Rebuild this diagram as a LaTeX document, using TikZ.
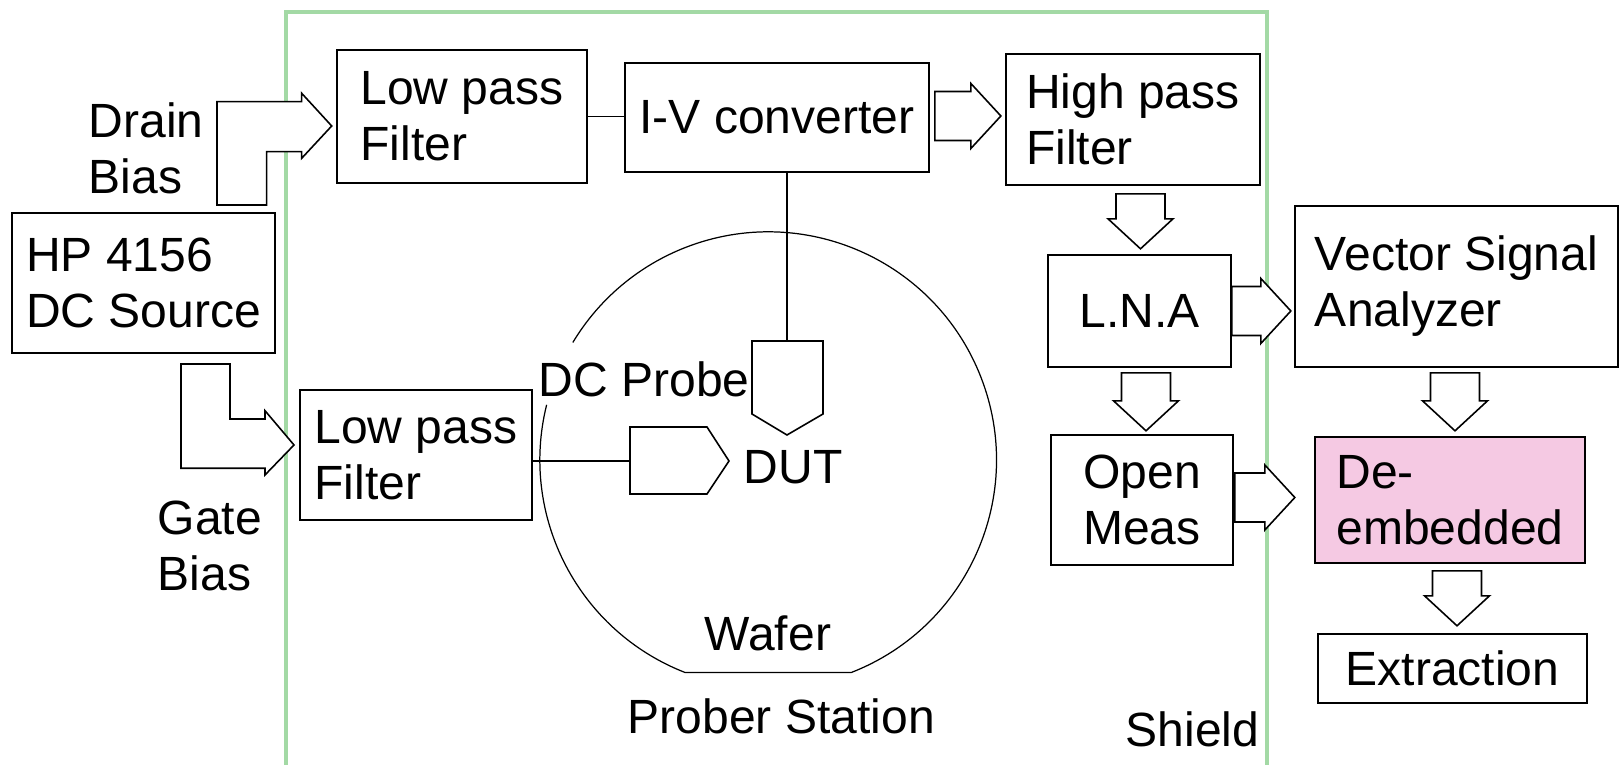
\documentclass[tikz,border=0pt]{standalone}
\usepackage{fontspec}
\setmainfont{Liberation Sans}
\usepackage{tikz}
\definecolor{shieldgreen}{HTML}{A3D9A5}
\definecolor{deembpink}{HTML}{F5C9E3}

\def\shw{24.5}  % shaft half-width of a block arrow
\def\hhw{32.5}  % head half-width
\def\hlen{30}   % head length

\tikzset{
  blk/.style={draw, line width=0.45pt, fill=white, align=left, inner sep=0pt},
  lbl/.style={inner sep=0pt},
  fatline/.style={draw, line width=0.45pt, fill=white, line join=miter},
  pics/barrow/.style={code={
    \draw[fatline] (0,-\shw) -- ({#1-\hlen},-\shw) -- ({#1-\hlen},-\hhw)
      -- (#1,0) -- ({#1-\hlen},\hhw) -- ({#1-\hlen},\shw) -- (0,\shw) -- cycle;
  }},
}

\begin{document}
\begin{tikzpicture}[x=0.01cm, y=-0.01cm, font=\fontsize{13.66}{15.93}\selectfont]
  % 1 unit = 1 px of the 1620 x 765 frame, y pointing down
  \useasboundingbox (0,0) rectangle (1620,765);

  % Shield (open at the bottom)
  \draw[shieldgreen, line width=1.1pt] (286,765) -- (286,12) -- (1267,12) -- (1267,765);

  % Wafer with its flat
  \draw[line width=0.35pt] (768,460) ++(166:2.28cm)
    arc[start angle=166, end angle=248.7, radius=2.28cm] -- ++(1.66cm,0)
    arc[start angle=-68.7, end angle=149, radius=2.28cm];

  % Blocks
  \node[blk, minimum width=2.63cm, minimum height=1.40cm] (hp) at (143.5,283) {HP 4156\\DC Source};
  \node[blk, minimum width=2.50cm, minimum height=1.33cm] (lpfd) at (462,116.5) {Low pass\\Filter};
  \node[blk, minimum width=3.04cm, minimum height=1.09cm] (ivc) at (777,117.5) {I-V converter};
  \node[blk, minimum width=2.54cm, minimum height=1.31cm] (hpf) at (1133,119.5) {High pass\\Filter};
  \node[blk, minimum width=2.32cm, minimum height=1.30cm] (lpfg) at (416,455) {Low pass\\Filter};
  \node[blk, align=center, minimum width=1.83cm, minimum height=1.12cm] (lna) at (1139.5,311) {L.N.A};
  \node[blk, minimum width=3.23cm, minimum height=1.61cm] (vsa) at (1456.5,286.5) {Vector Signal\\Analyzer};
  \node[blk, align=center, minimum width=1.82cm, minimum height=1.30cm] (opm) at (1142,500) {Open\\Meas};
  \node[blk, fill=deembpink, minimum width=2.70cm, minimum height=1.26cm] (deemb) at (1450,500) {De-\\embedded};
  \node[blk, minimum width=2.69cm, minimum height=0.69cm] (extr) at (1452.5,668.5) {Extraction};

  % Probes
  \coordinate (dcp) at (787,341);
  \coordinate (gp) at (630,461);
  \draw[fatline] (752,341) -- (823,341) -- (823,414) -- (787,435) -- (752,414) -- cycle;
  \draw[fatline] (630,427) -- (707,427) -- (729,461) -- (707,494) -- (630,494) -- cycle;

  % Thin wires
  \draw[line width=0.45pt] (lpfd.east) -- (lpfd.east -| ivc.west);
  \draw[line width=0.45pt] (ivc.south -| dcp) -- (dcp);
  \draw[line width=0.45pt] (lpfg.east |- gp) -- (gp);

  % Bent bias arrows
  \draw[fatline] (217,205) -- (217,101.7) -- (301.7,101.7) -- (301.7,93.3) -- (331.7,126)
    -- (301.7,158.3) -- (301.7,151.7) -- (266.7,151.7) -- (266.7,205) -- cycle;
  \draw[fatline] (181,364) -- (230,364) -- (230,419) -- (265,419) -- (265,410.7) -- (294,445)
    -- (265,475) -- (265,468.3) -- (181,468.3) -- cycle;

  % Block arrows
  \path (ivc.east) ++(5,-1.5) pic {barrow=66};
  \path (hpf.south -| lna.north) ++(1,8) pic[rotate=-90] {barrow=55};
  \path (lna.east) pic {barrow=59};
  \path (lna.south -| opm.north) ++(4,5) pic[rotate=-90] {barrow=58};
  \path (vsa.south) ++(-1.5,5) pic[rotate=-90] {barrow=58};
  \path (opm.east) ++(1,-2.5) pic {barrow=60};
  \path (deemb.south) ++(7,7) pic[rotate=-90] {barrow=55};

  % Labels
  \node[lbl, anchor=north west, align=left] (drainlbl) at (88,102) {Drain\\Bias};
  \node[lbl, anchor=north west, align=left] (gatelbl) at (157,500) {Gate\\Bias};
  \node[lbl, anchor=base west] (probelbl) at (538,397) {DC Probe};
  \node[lbl, anchor=base west] (dutlbl) at (743,484) {DUT};
  \node[lbl, anchor=base west] (waferlbl) at (704,651) {Wafer};
  \node[lbl, anchor=base west] (stationlbl) at (627,734) {Prober Station};
  \node[lbl, anchor=base west] (shieldlbl) at (1125,747) {Shield};
\end{tikzpicture}
\end{document}
